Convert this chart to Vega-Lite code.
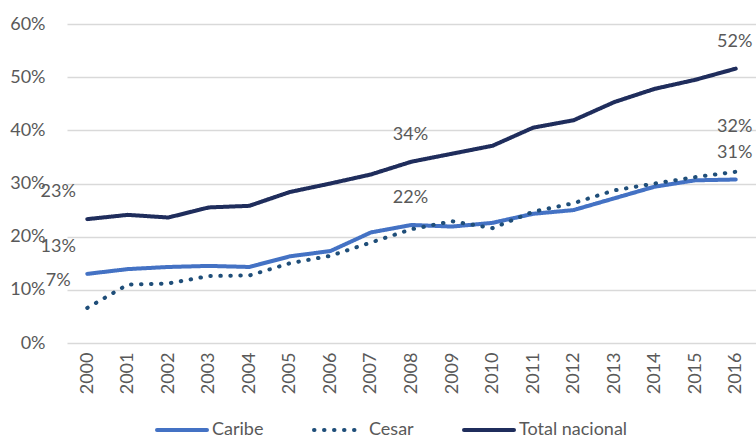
{
  "$schema": "https://vega.github.io/schema/vega-lite/v6.json",
  "width": 689,
  "height": 319,
  "autosize": {"type": "none"},
  "padding": {"left": 67, "top": 24, "right": 0, "bottom": 96},
  "background": "white",
  "config": {
    "view": {"stroke": null},
    "font": "Lato",
    "axis": {"labelFont": "Lato", "labelColor": "#595959", "labelFontSize": 18}
  },
  "data": {
    "values": [
      {"year": "2000", "series": "Caribe", "value": 0.130},
      {"year": "2001", "series": "Caribe", "value": 0.139},
      {"year": "2002", "series": "Caribe", "value": 0.143},
      {"year": "2003", "series": "Caribe", "value": 0.145},
      {"year": "2004", "series": "Caribe", "value": 0.143},
      {"year": "2005", "series": "Caribe", "value": 0.163},
      {"year": "2006", "series": "Caribe", "value": 0.173},
      {"year": "2007", "series": "Caribe", "value": 0.208},
      {"year": "2008", "series": "Caribe", "value": 0.222},
      {"year": "2009", "series": "Caribe", "value": 0.219},
      {"year": "2010", "series": "Caribe", "value": 0.226},
      {"year": "2011", "series": "Caribe", "value": 0.243},
      {"year": "2012", "series": "Caribe", "value": 0.250},
      {"year": "2013", "series": "Caribe", "value": 0.272},
      {"year": "2014", "series": "Caribe", "value": 0.294},
      {"year": "2015", "series": "Caribe", "value": 0.306},
      {"year": "2016", "series": "Caribe", "value": 0.3075},
      {"year": "2000", "series": "Cesar", "value": 0.066},
      {"year": "2001", "series": "Cesar", "value": 0.110},
      {"year": "2002", "series": "Cesar", "value": 0.112},
      {"year": "2003", "series": "Cesar", "value": 0.126},
      {"year": "2004", "series": "Cesar", "value": 0.127},
      {"year": "2005", "series": "Cesar", "value": 0.150},
      {"year": "2006", "series": "Cesar", "value": 0.164},
      {"year": "2007", "series": "Cesar", "value": 0.189},
      {"year": "2008", "series": "Cesar", "value": 0.214},
      {"year": "2009", "series": "Cesar", "value": 0.229},
      {"year": "2010", "series": "Cesar", "value": 0.216},
      {"year": "2011", "series": "Cesar", "value": 0.247},
      {"year": "2012", "series": "Cesar", "value": 0.263},
      {"year": "2013", "series": "Cesar", "value": 0.287},
      {"year": "2014", "series": "Cesar", "value": 0.300},
      {"year": "2015", "series": "Cesar", "value": 0.312},
      {"year": "2016", "series": "Cesar", "value": 0.322},
      {"year": "2000", "series": "Total nacional", "value": 0.233},
      {"year": "2001", "series": "Total nacional", "value": 0.241},
      {"year": "2002", "series": "Total nacional", "value": 0.236},
      {"year": "2003", "series": "Total nacional", "value": 0.255},
      {"year": "2004", "series": "Total nacional", "value": 0.258},
      {"year": "2005", "series": "Total nacional", "value": 0.284},
      {"year": "2006", "series": "Total nacional", "value": 0.300},
      {"year": "2007", "series": "Total nacional", "value": 0.317},
      {"year": "2008", "series": "Total nacional", "value": 0.341},
      {"year": "2009", "series": "Total nacional", "value": 0.356},
      {"year": "2010", "series": "Total nacional", "value": 0.371},
      {"year": "2011", "series": "Total nacional", "value": 0.405},
      {"year": "2012", "series": "Total nacional", "value": 0.419},
      {"year": "2013", "series": "Total nacional", "value": 0.453},
      {"year": "2014", "series": "Total nacional", "value": 0.478},
      {"year": "2015", "series": "Total nacional", "value": 0.495},
      {"year": "2016", "series": "Total nacional", "value": 0.516}
    ]
  },
  "encoding": {
    "x": {
      "field": "year", "type": "ordinal",
      "scale": {"type": "point", "padding": 0.5},
      "axis": {"title": null, "labelAngle": -90, "domain": false, "ticks": false, "labelPadding": 9, "labelBaseline": "middle", "labelAlign": "right"}
    },
    "y": {
      "field": "value", "type": "quantitative",
      "scale": {"domain": [0, 0.6], "nice": false},
      "axis": {"title": null, "format": ".0%", "values": [0, 0.1, 0.2, 0.3, 0.4, 0.5, 0.6], "domain": false, "ticks": false, "labelPadding": 22, "gridColor": "#D9D9D9", "gridWidth": 1.3}
    }
  },
  "layer": [
    {
      "mark": {"type": "line", "strokeWidth": 4, "strokeCap": "round"},
      "encoding": {
        "color": {
          "field": "series", "type": "nominal",
          "scale": {"domain": ["Caribe", "Cesar", "Total nacional"], "range": ["#4472C4", "#1F4E79", "#1F2D5C"]},
          "legend": {"title": null, "orient": "none", "direction": "horizontal", "legendX": 88, "legendY": 379, "symbolType": "stroke", "symbolSize": 2500, "symbolStrokeWidth": 4, "labelFontSize": 18, "labelColor": "#595959", "labelFont": "Lato", "labelOffset": 3, "columnPadding": 42,
            "encode": {"symbols": {"update": {"strokeCap": {"value": "round"}}}}}
        },
        "strokeDash": {
          "field": "series", "type": "nominal",
          "scale": {"domain": ["Caribe", "Cesar", "Total nacional"], "range": [[1, 0], [0.5, 9.5], [1, 0]]},
          "legend": null
        }
      }
    },
    {
      "transform": [{"filter": "datum.year == '2000'"}],
      "mark": {"type": "text", "dx": -29, "dy": -27, "fontSize": 18, "color": "#595959", "font": "Lato"},
      "encoding": {"text": {"field": "value", "type": "quantitative", "format": ".0%"}}
    },
    {
      "transform": [{"filter": "(datum.year == '2008' || datum.year == '2016') && datum.series != 'Cesar'"}],
      "mark": {"type": "text", "dx": -1, "dy": -27, "fontSize": 18, "color": "#595959", "font": "Lato"},
      "encoding": {"text": {"field": "value", "type": "quantitative", "format": ".0%"}}
    },
    {
      "transform": [{"filter": "datum.year == '2016' && datum.series == 'Cesar'"}],
      "mark": {"type": "text", "dx": -1, "dy": -45, "fontSize": 18, "color": "#595959", "font": "Lato"},
      "encoding": {"text": {"field": "value", "type": "quantitative", "format": ".0%"}}
    }
  ]
}
